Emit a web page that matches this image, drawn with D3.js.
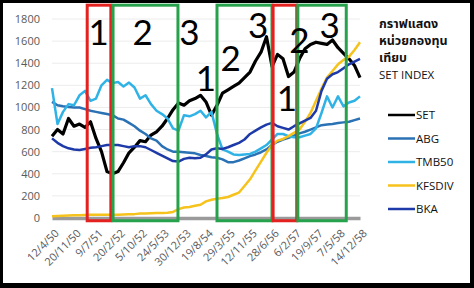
<!DOCTYPE html>
<html>
<head>
<meta charset="utf-8">
<script src="https://d3js.org/d3.v7.min.js"></script>
<style>
    body { margin: 0; background: #000; }
    .axis text { font-family: "Open Sans", "Liberation Sans", sans-serif; font-size: 11px; fill: #595959; }
    .legend text { font-family: "Open Sans", "Noto Sans Thai", "Noto Sans", sans-serif; fill: #111; }
</style>
</head>
<body>
<div id="chart-area"></div>
<script>

// x-axis tick labels (Thai Buddhist-year dates), one every 4 samples
var dateLabels = ["12/4/50", "20/11/50", "9/7/51", "20/2/52", "5/10/52", "24/5/53", "30/12/53",
    "19/8/54", "29/3/55", "12/11/55", "28/6/56", "6/2/57", "19/9/57", "7/5/58", "14/12/58"];

var seriesNames = ["SET", "ABG", "TMB50", "KFSDIV", "BKA"];

// values, 57 samples each
var setValues = [740, 800, 760, 900, 830, 850, 820, 870, 720, 600, 420, 400, 420, 500, 590, 640,
    700, 690, 750, 780, 830, 900, 980, 1040, 1020, 1060, 1080, 1110, 1050, 930, 1020, 1130, 1160,
    1190, 1220, 1270, 1320, 1420, 1500, 1640, 1370, 1480, 1440, 1280, 1320, 1440, 1530, 1570, 1590,
    1580, 1570, 1610, 1540, 1490, 1440, 1380, 1270];

var abgValues = [1050, 1020, 1010, 1005, 1000, 1000, 985, 970, 960, 950, 940, 930, 900, 890, 860,
    830, 790, 760, 720, 700, 650, 620, 600, 600, 595, 590, 585, 570, 560, 550, 545, 530, 505, 505,
    520, 540, 560, 575, 595, 620, 660, 690, 710, 725, 745, 765, 780, 800, 820, 840, 845, 850, 860,
    865, 870, 885, 900];

var tmb50Values = [1175, 850, 960, 1030, 1020, 1110, 1150, 1060, 1080, 1200, 1250, 1220, 1230, 1190,
    1225, 1180, 1080, 1110, 1030, 970, 940, 900, 810, 790, 930, 920, 940, 970, 910, 960, 760, 620,
    600, 575, 570, 575, 580, 600, 630, 660, 710, 760, 760, 740, 730, 730, 745, 760, 810, 950, 1100,
    1000, 1100, 1010, 1045, 1060, 1100];

var kfsdivValues = [15, 18, 20, 22, 25, 25, 28, 30, 30, 30, 30, 30, 30, 32, 35, 35, 40, 40, 42, 45,
    45, 48, 55, 80, 95, 100, 110, 120, 150, 165, 175, 180, 190, 210, 230, 290, 350, 430, 510, 590,
    660, 700, 715, 740, 770, 800, 870, 950, 1060, 1170, 1270, 1330, 1390, 1430, 1460, 1520, 1590];

var bkaValues = [720, 680, 650, 630, 620, 615, 625, 635, 640, 650, 660, 660, 660, 650, 640, 650, 650,
    640, 615, 590, 565, 540, 515, 510, 535, 545, 540, 545, 575, 620, 630, 625, 640, 660, 680, 710,
    760, 790, 820, 845, 860, 830, 815, 800, 830, 855, 880, 905, 970, 1150, 1260, 1300, 1320, 1355,
    1390, 1415, 1440];

var seriesColors = ["#000000", "#2b72b4", "#2fb3e6", "#f6c21c", "#1e3aa8"];

// phase boxes drawn over the chart, in sample units
var boxStart = [6.4, 11.1, 30, 40.2, 44.7];
var boxEnd = [10.7, 22.9, 40, 44.5, 53.5];
var boxColors = ["#e3211f", "#27a24c", "#27a24c", "#e3211f", "#27a24c"];

// big wave numbers
var waveText = ["1", "2", "3", "1", "2", "3", "1", "2", "3"];
var waveAt = [8.5, 16.5, 25, 28, 32.5, 37.5, 42.7, 45, 50.5];
var waveLevel = [1675, 1675, 1675, 1265, 1445, 1745, 1085, 1610, 1745];

var titleLines = ["กราฟแสดง", "หน่วยกองทุน", "เทียบ", "SET INDEX"];


SetChart = function(_parentElement){
    this.parentElement = _parentElement;
    this.initVis();
}

SetChart.prototype.initVis = function(){
    var vis = this;

    vis.svg = d3.select("#" + vis.parentElement).append("svg")
        .attr("width", 474)
        .attr("height", 288);

    // white panel inside the black frame
    vis.svg.append("rect")
        .attr("x", 3).attr("y", 3)
        .attr("width", 467).attr("height", 280)
        .attr("fill", "#fff");

    vis.x = d3.scaleLinear()
        .domain([0, setValues.length - 1])
        .range([52, 360]);

    vis.y = d3.scaleLinear()
        .domain([0, 1800])
        .range([218, 19]);

    vis.updateVis();
}

SetChart.prototype.updateVis = function(){
    var vis = this;

    // gridlines
    vis.svg.append("g")
        .selectAll("line")
        .data(d3.range(200, 1801, 200))
        .enter().append("line")
        .attr("x1", vis.x(0)).attr("x2", vis.x(setValues.length - 1))
        .attr("y1", function(d) { return vis.y(d); })
        .attr("y2", function(d) { return vis.y(d); })
        .attr("stroke", "#ececec");

    // y axis
    vis.yAxis = d3.axisLeft(vis.y)
        .tickValues(d3.range(0, 1801, 200))
        .tickFormat(d3.format("d"))
        .tickSize(0)
        .tickPadding(12);

    vis.svg.append("g")
        .attr("class", "y-axis axis")
        .attr("transform", "translate(" + vis.x(0) + ",0)")
        .call(vis.yAxis)
        .call(function(g) { g.select(".domain").remove(); });

    // x axis
    vis.xAxis = d3.axisBottom(vis.x)
        .tickValues(d3.range(0, setValues.length, 4))
        .tickFormat(function(d, i) { return dateLabels[i]; })
        .tickSize(0);

    var xg = vis.svg.append("g")
        .attr("class", "x-axis axis")
        .attr("transform", "translate(0," + vis.y(0) + ")")
        .call(vis.xAxis);

    xg.select(".domain")
        .attr("stroke", "#9a9a9a")
        .attr("stroke-width", 3.5);

    xg.selectAll("text")
        .attr("text-anchor", "end")
        .attr("dy", 0)
        .attr("transform", "translate(5,14) rotate(-45)");

    // lines
    var allSeries = [setValues, abgValues, tmb50Values, kfsdivValues, bkaValues];

    var line = d3.line()
        .x(function(d, i) { return vis.x(i); })
        .y(function(d) { return vis.y(d); });

    vis.svg.append("g")
        .selectAll("path")
        .data(allSeries)
        .enter().append("path")
        .attr("d", line)
        .attr("fill", "none")
        .attr("stroke", function(d, i) { return seriesColors[i]; })
        .attr("stroke-width", function(d, i) { return i == 0 ? 3.2 : 2.5; })
        .attr("stroke-linejoin", "round");

    // phase boxes
    vis.svg.append("g")
        .selectAll("rect")
        .data(boxStart)
        .enter().append("rect")
        .attr("x", function(d) { return vis.x(d); })
        .attr("y", vis.y(1925))
        .attr("width", function(d, i) { return vis.x(boxEnd[i]) - vis.x(d); })
        .attr("height", vis.y(-25) - vis.y(1925))
        .attr("fill", "none")
        .attr("stroke", function(d, i) { return boxColors[i]; })
        .attr("stroke-width", 3);

    // wave numbers
    vis.svg.append("g")
        .selectAll("text")
        .data(waveText)
        .enter().append("text")
        .attr("x", function(d, i) { return vis.x(waveAt[i]); })
        .attr("y", function(d, i) { return vis.y(waveLevel[i]); })
        .attr("dy", "0.36em")
        .attr("text-anchor", "middle")
        .style("font-family", "Lato, 'Open Sans', sans-serif")
        .style("font-size", "35px")
        .style("fill", "#000")
        .text(function(d) { return d; });

    // legend
    var legend = vis.svg.append("g").attr("class", "legend");

    legend.selectAll(".title")
        .data(titleLines)
        .enter().append("text")
        .attr("class", "title")
        .attr("x", 379)
        .attr("y", function(d, i) { return 28 + i * 17; })
        .style("font-size", function(d, i) { return i < 3 ? "12.5px" : "11.5px"; })
        .style("font-weight", function(d, i) { return i < 3 ? "bold" : "normal"; })
        .text(function(d) { return d; });

    var items = legend.selectAll(".item")
        .data(seriesNames)
        .enter().append("g")
        .attr("class", "item")
        .attr("transform", function(d, i) { return "translate(388," + (115 + i * 23.5) + ")"; });

    items.append("line")
        .attr("x1", 0).attr("x2", 27)
        .attr("stroke", function(d, i) { return seriesColors[i]; })
        .attr("stroke-width", 2.5);

    items.append("text")
        .attr("x", 28)
        .attr("dy", "0.35em")
        .style("font-size", "11.5px")
        .text(function(d) { return d; });
}

new SetChart("chart-area");

</script>
</body>
</html>
